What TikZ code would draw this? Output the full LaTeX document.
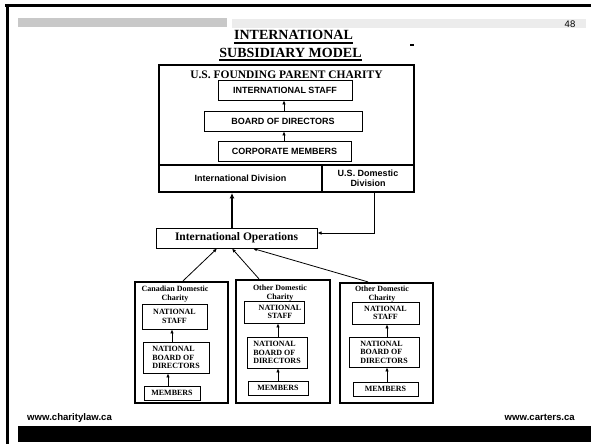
\documentclass[tikz,border=0pt]{standalone}
\usepackage{fontspec}
\setmainfont{Liberation Serif}
\setsansfont{Liberation Sans}
\usetikzlibrary{arrows.meta}
\definecolor{barA}{RGB}{200,200,200}
\definecolor{barB}{RGB}{236,236,236}
\tikzset{
  mainbox/.style={draw, line width=1.8pt, inner sep=0pt},
  pbox/.style={draw, line width=0.8pt, inner sep=0pt, font=\sffamily\bfseries\fontsize{9}{10}\selectfont},
  celltext/.style={font=\sffamily\bfseries\fontsize{9}{10.5}\selectfont, align=center},
  outerbox/.style={draw, line width=2.2pt, inner sep=0pt},
  cbox/.style={draw, line width=0.8pt, inner sep=0pt, align=center, font=\bfseries\fontsize{8}{8.6}\selectfont},
  lbox/.style={draw, line width=0.8pt, inner sep=0pt, align=left, font=\bfseries\fontsize{8}{8.6}\selectfont},
  ctitle/.style={inner sep=0pt, align=center, font=\bfseries\fontsize{8}{9}\selectfont},
  arr/.style={-{Latex[length=4pt,width=3.5pt]}, line width=0.8pt},
  thickarr/.style={-{Latex[length=5.5pt,width=5pt]}, line width=2pt},
  foot/.style={inner sep=0pt, font=\sffamily\bfseries\fontsize{9.6}{11}\selectfont}
}
\begin{document}
\begin{tikzpicture}[x=1pt,y=-1pt]
\useasboundingbox (0,0) rectangle (591,444);
\fill[white] (0,0) rectangle (591,444);
% frame and header
\draw[line width=3pt] (5,6) -- (591,6);
\draw[line width=3pt] (7,4.5) -- (7,444);
\fill[barA] (18,18) rectangle (227,27);
\fill[barB] (232,19) rectangle (586,28);
\node[inner sep=0pt, font=\sffamily\fontsize{9.5}{10}\selectfont] (pg) at (570,24) {48};
% title
\node[anchor=base, inner sep=0pt, font=\bfseries\fontsize{14}{16}\selectfont] (t1) at (293.5,40) {INTERNATIONAL};
\node[anchor=base, inner sep=0pt, font=\bfseries\fontsize{14}{16}\selectfont] (t2) at (290.5,57) {SUBSIDIARY MODEL};
\draw[line width=1.1pt] ([yshift=-3pt]t1.base west) -- ([yshift=-3pt]t1.base east);
\draw[line width=1.1pt] ([yshift=-3pt]t2.base west) -- ([yshift=-3pt]t2.base east);
\draw[line width=1.5pt] (410,45) -- (414,45);
% parent charity
\node[mainbox, minimum width=255pt, minimum height=100pt] (parent) at (286.5,115) {};
\node[inner sep=0pt, font=\bfseries\fontsize{11.5}{12}\selectfont] (pname) at (286.5,74.5) {U.S. FOUNDING PARENT CHARITY};
\node[pbox, minimum width=134pt, minimum height=20pt] (istaff) at (285,90) {INTERNATIONAL STAFF};
\node[pbox, minimum width=158pt, minimum height=20pt] (board) at (283,121) {BOARD OF DIRECTORS};
\node[pbox, minimum width=133pt, minimum height=20pt] (corp) at (284.5,151) {CORPORATE MEMBERS};
\draw[arr] (board.north -| 284,0) -- (istaff.south -| 284,0);
\draw[arr] (corp.north -| 284,0) -- (board.south -| 284,0);
\node[mainbox, celltext, minimum width=163pt, minimum height=27pt] (intdiv) at (240.5,178.5) {International Division};
\node[mainbox, celltext, minimum width=92pt, minimum height=27pt] (usdom) at (368,178.5) {U.S. Domestic\\Division};
% international operations
\node[draw, line width=1pt, minimum width=161pt, minimum height=20pt, inner sep=0pt, font=\bfseries\fontsize{11.5}{12}\selectfont] (intops) at (236.5,238) {International Operations};
\draw[thickarr] (intops.north -| 232,0) -- (intdiv.south -| 232,0);
\draw[arr] (usdom.south -| 374,0) |- (intops.east |- 0,233);
% Canadian
\node[outerbox, minimum width=93pt, minimum height=121pt] (can) at (181.5,342.5) {};
\node[ctitle] (cant) at (175,294.5) {Canadian Domestic\\Charity};
\node[cbox, minimum width=65pt, minimum height=25pt] (cans) at (174.5,316.5) {NATIONAL\\STAFF};
\node[lbox, minimum width=66pt, minimum height=31pt] (canb) at (176,357.5) {NATIONAL\\BOARD OF\\DIRECTORS};
\node[cbox, minimum width=56pt, minimum height=14pt] (canm) at (172,393) {MEMBERS};
\draw[arr] (canb.north -| 172,0) -- (cans.south -| 172,0);
\draw[arr] (canm.north -| 168,0) -- (canb.south -| 168,0);
% Other 1
\node[outerbox, minimum width=94pt, minimum height=123pt] (oa) at (283,341.5) {};
\node[ctitle] (oat) at (280,293) {Other Domestic\\Charity};
\node[cbox, minimum width=60pt, minimum height=22pt] (oas) at (274,312) {\hspace*{12pt}NATIONAL\\\hspace*{12pt}STAFF};
\node[lbox, minimum width=60pt, minimum height=31pt] (oab) at (277,352.5) {NATIONAL\\BOARD OF\\DIRECTORS};
\node[cbox, minimum width=60pt, minimum height=14pt] (oam) at (278,388) {MEMBERS};
\draw[arr] (oab.north -| 278,0) -- (oas.south -| 278,0);
\draw[arr] (oam.north -| 278,0) -- (oab.south -| 278,0);
% Other 2
\node[outerbox, minimum width=93pt, minimum height=120pt] (ob) at (386.5,343) {};
\node[ctitle] (obt) at (382,294) {Other Domestic\\Charity};
\node[cbox, minimum width=67pt, minimum height=22pt] (obs) at (385.5,313) {NATIONAL\\STAFF};
\node[lbox, minimum width=70pt, minimum height=30pt] (obb) at (384,352) {NATIONAL\\BOARD OF\\DIRECTORS};
\node[cbox, minimum width=65pt, minimum height=14pt] (obm) at (385.5,389) {MEMBERS};
\draw[arr] (obb.north -| 387,0) -- (obs.south -| 387,0);
\draw[arr] (obm.north -| 387,0) -- (obb.south -| 387,0);
% links to international operations
\draw[arr] (can.north -| 183,0) -- (intops.south -| 217,0);
\draw[arr] (oa.north -| 259,0) -- (intops.south -| 232,0);
\draw[arr] (ob.north -| 368,0) -- (intops.south -| 253,0);
% footer
\node[foot, anchor=base west] (fl) at (27,420) {www.charitylaw.ca};
\node[foot, anchor=base east] (fr) at (575,420) {www.carters.ca};
\fill[black] (18,426) rectangle (591,442);
\end{tikzpicture}
\end{document}
